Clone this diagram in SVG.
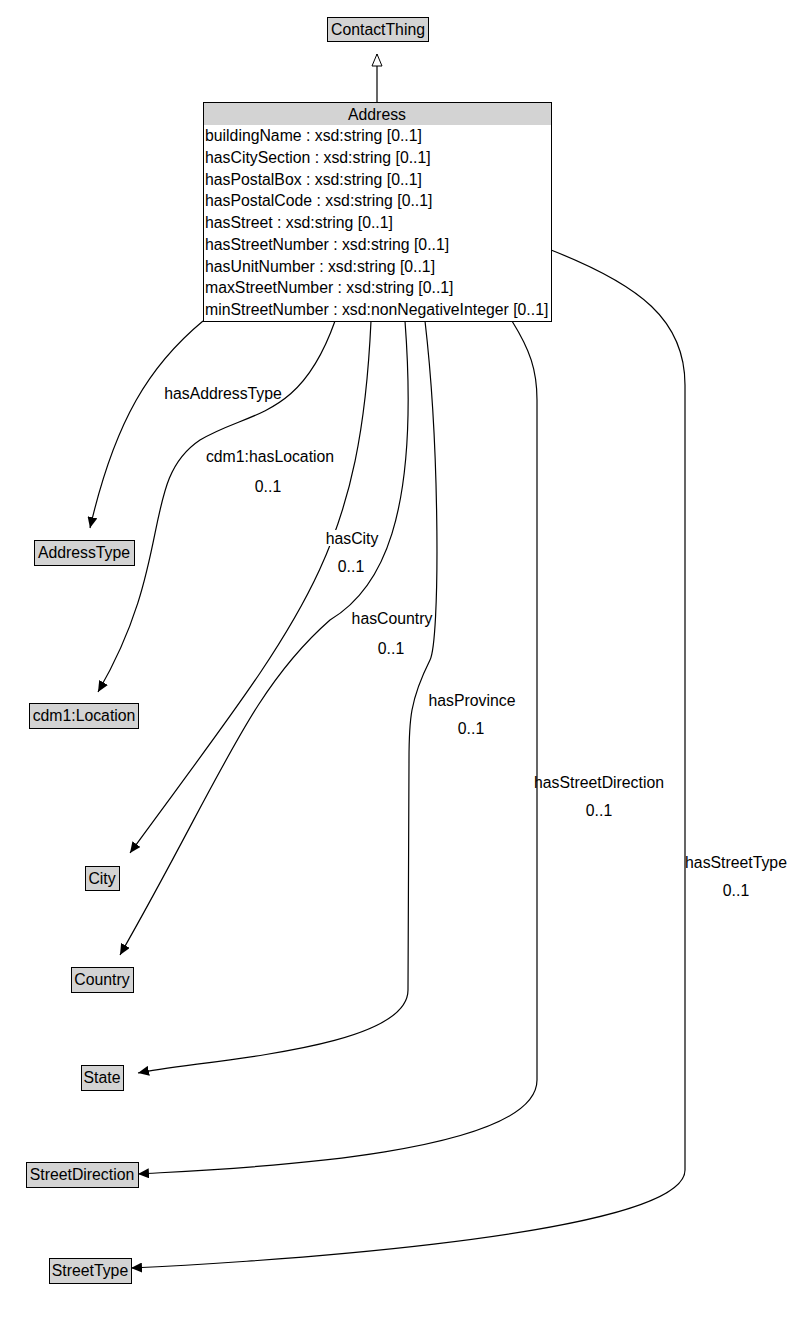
<svg xmlns="http://www.w3.org/2000/svg" width="794" height="1323" viewBox="0 0 794 1323">
<style>
text{font-family:"Liberation Sans",Arial,sans-serif;font-size:15.8px;fill:#000}
.e{font-size:13.8px}
.n{fill:#d3d3d3;stroke:#000;stroke-width:1}
.c{fill:none;stroke:#000;stroke-width:1.2}
.lb{fill:#fff}
.m{text-anchor:middle}
</style>
<defs>
<marker id="a" markerWidth="12" markerHeight="10" refX="11" refY="5" orient="auto" markerUnits="userSpaceOnUse"><path d="M0,0 L11,5 L0,10 z" fill="#000"/></marker>
<marker id="g" markerWidth="14" markerHeight="12" refX="13" refY="6" orient="auto" markerUnits="userSpaceOnUse"><path d="M1,1 L13,6 L1,11 z" fill="#fff" stroke="#000"/></marker>
</defs>
<rect width="794" height="1323" fill="#fff"/>
<g id="connectors">
<path class="c" d="M377,102 L377,54" marker-end="url(#g)"/>
<path class="c" d="M203,321 C150,365 115,420 90,528" marker-end="url(#a)"/>
<path class="c" d="M335,321 C300,420 250,410 200,440 C140,480 175,560 98,692" marker-end="url(#a)"/>
<path class="c" d="M371,321 C360,560 300,620 130,853" marker-end="url(#a)"/>
<path class="c" d="M405,321 C420,520 380,590 330,620 C250,690 220,780 120,955" marker-end="url(#a)"/>
<path class="c" d="M425,321 C440,450 440,640 430,660 C410,700 409,720 409,760 L408,990 C408,1050 200,1060 138,1073" marker-end="url(#a)"/>
<path class="c" d="M512,321 C530,350 537,370 537,400 L537,1080 C537,1160 200,1170 138,1174" marker-end="url(#a)"/>
<path class="c" d="M551,250 C640,285 685,320 685,385 L685,1170 C685,1240 200,1265 131,1268" marker-end="url(#a)"/>
<g class="lb">
<rect x="168" y="385" width="112" height="16"/>
<rect x="210" y="448" width="120" height="16"/><rect x="255" y="478" width="26" height="16"/>
<rect x="326" y="530" width="52" height="16"/><rect x="338" y="558" width="26" height="16"/>
<rect x="353" y="610" width="78" height="16"/><rect x="378" y="640" width="26" height="16"/>
<rect x="430" y="692" width="84" height="16"/><rect x="458" y="720" width="26" height="16"/>
<rect x="538" y="774" width="122" height="16"/><rect x="586" y="802" width="26" height="16"/>
<rect x="687" y="854" width="98" height="16"/><rect x="723" y="882" width="26" height="16"/>
</g>
<g class="e">
<text x="223" y="399" class="m">hasAddressType</text>
<text x="270" y="462" class="m">cdm1:hasLocation</text><text x="268" y="492" class="m">0..1</text>
<text x="352" y="544" class="m">hasCity</text><text x="351" y="572" class="m">0..1</text>
<text x="392" y="624" class="m">hasCountry</text><text x="391" y="654" class="m">0..1</text>
<text x="472" y="706" class="m">hasProvince</text><text x="471" y="734" class="m">0..1</text>
<text x="599" y="788" class="m">hasStreetDirection</text><text x="599" y="816" class="m">0..1</text>
<text x="736" y="868" class="m">hasStreetType</text><text x="736" y="896" class="m">0..1</text>
</g>
</g>
<g id="ContactThing"><rect class="n" x="327.5" y="17.5" width="101" height="24"/><text x="378" y="35" class="m">ContactThing</text></g>
<g id="Address">
<rect x="203.5" y="102.5" width="348" height="219" fill="#fff" stroke="#000"/>
<rect x="204" y="103" width="347" height="22" fill="#d3d3d3"/>
<text x="377" y="120" class="m">Address</text>
<text x="205" y="141">buildingName : xsd:string [0..1]</text>
<text x="205" y="163">hasCitySection : xsd:string [0..1]</text>
<text x="205" y="185">hasPostalBox : xsd:string [0..1]</text>
<text x="205" y="206">hasPostalCode : xsd:string [0..1]</text>
<text x="205" y="228">hasStreet : xsd:string [0..1]</text>
<text x="205" y="250">hasStreetNumber : xsd:string [0..1]</text>
<text x="205" y="272">hasUnitNumber : xsd:string [0..1]</text>
<text x="205" y="293">maxStreetNumber : xsd:string [0..1]</text>
<text x="205" y="315">minStreetNumber : xsd:nonNegativeInteger [0..1]</text>
</g>
<g id="AddressType"><rect class="n" x="34.5" y="540.5" width="100" height="25"/><text x="84" y="558" class="m">AddressType</text></g>
<g id="Location"><rect class="n" x="29.5" y="703.5" width="109" height="25"/><text x="84" y="721" class="m">cdm1:Location</text></g>
<g id="City"><rect class="n" x="85.5" y="866.5" width="34" height="24"/><text x="102" y="884" class="m">City</text></g>
<g id="Country"><rect class="n" x="71.5" y="967.5" width="62" height="25"/><text x="102" y="985" class="m">Country</text></g>
<g id="State"><rect class="n" x="81.5" y="1065.5" width="42" height="25"/><text x="102" y="1083" class="m">State</text></g>
<g id="StreetDirection"><rect class="n" x="26.5" y="1162.5" width="112" height="25"/><text x="82" y="1180" class="m">StreetDirection</text></g>
<g id="StreetType"><rect class="n" x="49.5" y="1258.5" width="82" height="25"/><text x="90" y="1276" class="m">StreetType</text></g>
</svg>
